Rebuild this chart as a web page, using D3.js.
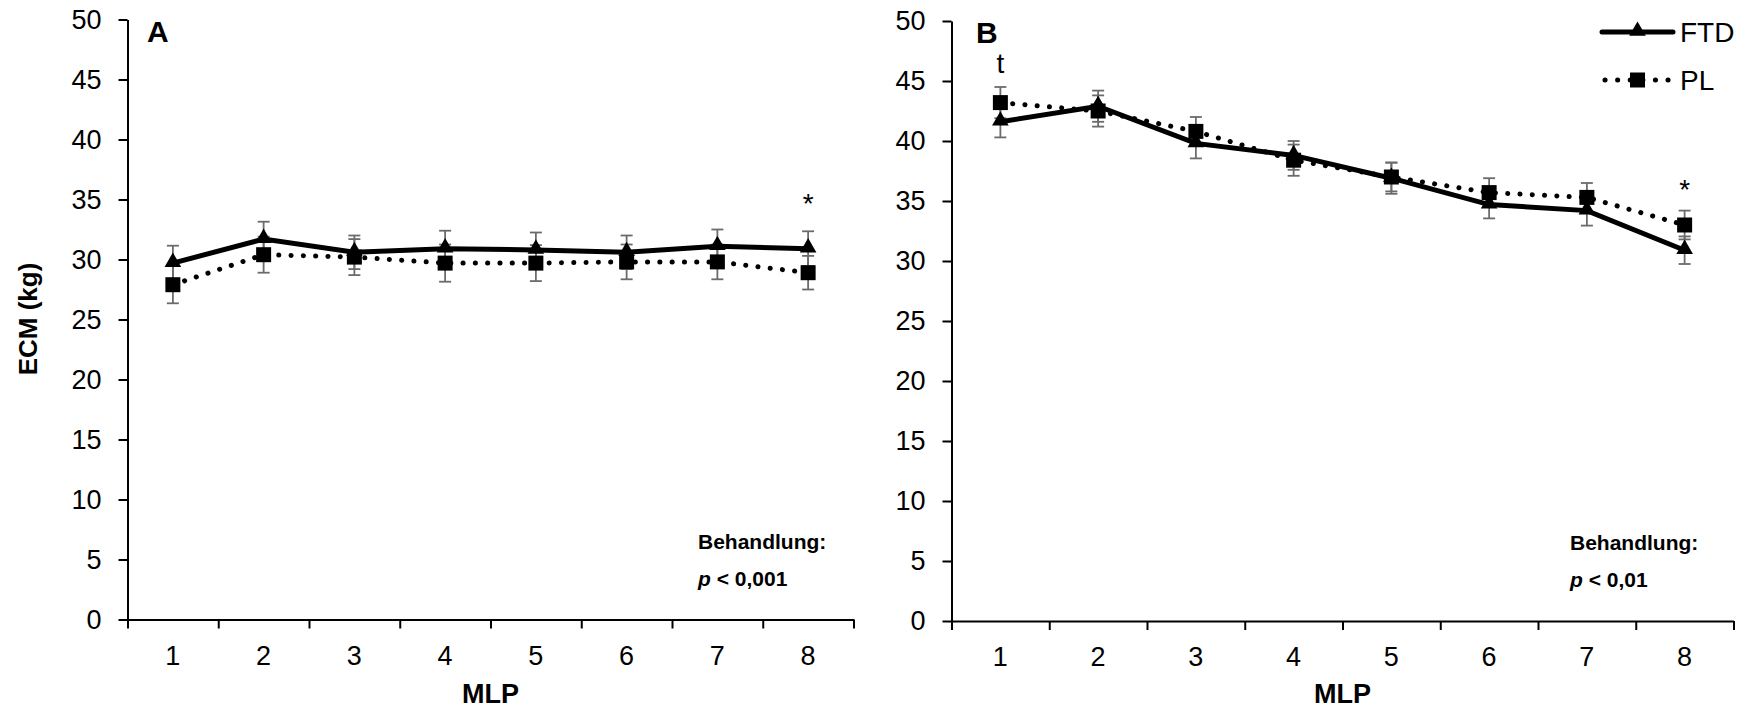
<!DOCTYPE html>
<html>
<head>
<meta charset="utf-8">
<script src="https://cdn.jsdelivr.net/npm/d3@7"></script>
<style>
  body { margin: 0; background: #fff; }
  text { font-family: Arial, 'Liberation Sans', sans-serif; fill: #000; }
</style>
</head>
<body>
<div id="chart"></div>
<script>
// categories and values
var mlp = ['1', '2', '3', '4', '5', '6', '7', '8']
var yTicks = [0, 5, 10, 15, 20, 25, 30, 35, 40, 45, 50]

var ftdA = [29.7, 31.7, 30.6, 30.9, 30.8, 30.6, 31.1, 30.9]
var ftdASe = [1.45, 1.45, 1.4, 1.5, 1.45, 1.4, 1.4, 1.45]
var plA = [27.9, 30.4, 30.2, 29.7, 29.7, 29.8, 29.8, 28.9]
var plASe = [1.55, 1.5, 1.5, 1.55, 1.5, 1.45, 1.45, 1.4]

var ftdB = [41.6, 42.9, 39.8, 38.8, 36.9, 34.7, 34.2, 30.9]
var ftdBSe = [1.3, 1.3, 1.25, 1.2, 1.3, 1.15, 1.25, 1.15]
var plB = [43.2, 42.5, 40.8, 38.4, 37.0, 35.7, 35.3, 33.0]
var plBSe = [1.3, 1.3, 1.2, 1.3, 1.2, 1.2, 1.2, 1.2]

var svg = d3.select('#chart')
  .append('svg')
  .attr('width', 1742)
  .attr('height', 710)

var triangle = d3.symbol().type(d3.symbolTriangle).size(120)
var square = d3.symbol().type(d3.symbolSquare).size(225)

function drawPanel (p) {
  var g = svg.append('g')

  var x = d3.scaleBand().domain(mlp).range([p.left, p.right])
  var xEdge = d3.scaleLinear().domain([0, mlp.length]).range([p.left, p.right])
  var y = d3.scaleLinear().domain([0, 50]).range([p.bottom, p.top])

  // y axis
  var yAxis = g.append('g')
    .attr('transform', 'translate(' + p.left + ',0)')
    .call(d3.axisLeft(y).tickValues(yTicks).tickSize(9).tickSizeOuter(0).tickPadding(17))
  yAxis.selectAll('text').style('font-size', '27px')

  // x axis: ticks between categories, labels centered
  g.append('g')
    .attr('transform', 'translate(0,' + p.bottom + ')')
    .call(d3.axisBottom(xEdge).ticks(mlp.length).tickFormat('').tickSize(9).tickSizeOuter(0))
  g.append('g')
    .attr('transform', 'translate(0,' + p.bottom + ')')
    .call(d3.axisBottom(x).tickSize(0).tickPadding(26))
    .call(function (a) { a.select('.domain').remove() })
    .selectAll('text').style('font-size', '27px')

  g.selectAll('.domain, .tick line').attr('stroke', '#000').attr('stroke-width', 2)

  var cx = function (d, i) { return x(mlp[i]) + x.bandwidth() / 2 }
  var line = d3.line().x(cx).y(function (d) { return y(d) })

  // error bars
  var series = [
    { v: p.pl, se: p.plSe },
    { v: p.ftd, se: p.ftdSe }
  ]
  series.forEach(function (s) {
    var eb = g.append('g').selectAll('g').data(s.v).enter().append('g')
      .attr('stroke', '#6b6b6b').attr('stroke-width', 1.8)
    eb.append('line')
      .attr('x1', cx).attr('x2', cx)
      .attr('y1', function (d, i) { return y(d - s.se[i]) })
      .attr('y2', function (d, i) { return y(d + s.se[i]) })
    eb.append('line')
      .attr('x1', function (d, i) { return cx(d, i) - 6 })
      .attr('x2', function (d, i) { return cx(d, i) + 6 })
      .attr('y1', function (d, i) { return y(d + s.se[i]) })
      .attr('y2', function (d, i) { return y(d + s.se[i]) })
    eb.append('line')
      .attr('x1', function (d, i) { return cx(d, i) - 6 })
      .attr('x2', function (d, i) { return cx(d, i) + 6 })
      .attr('y1', function (d, i) { return y(d - s.se[i]) })
      .attr('y2', function (d, i) { return y(d - s.se[i]) })
  })

  // lines
  g.append('path').datum(p.ftd)
    .attr('d', line)
    .attr('fill', 'none').attr('stroke', '#000').attr('stroke-width', 5)
  g.append('path').datum(p.pl)
    .attr('d', line)
    .attr('fill', 'none').attr('stroke', '#000').attr('stroke-width', 5)
    .attr('stroke-linecap', 'round').attr('stroke-dasharray', '0.1 12.2')

  // markers
  g.selectAll('.tri').data(p.ftd).enter().append('path')
    .attr('d', triangle)
    .attr('transform', function (d, i) { return 'translate(' + cx(d, i) + ',' + (y(d) - 1) + ')' })
    .attr('fill', '#000')
  g.selectAll('.sq').data(p.pl).enter().append('path')
    .attr('d', square)
    .attr('transform', function (d, i) { return 'translate(' + cx(d, i) + ',' + y(d) + ')' })
    .attr('fill', '#000')

  // panel letter
  g.append('text')
    .attr('x', p.letterX).attr('y', p.top + 22)
    .style('font-size', '30px').style('font-weight', 'bold')
    .text(p.letter)

  // significance marks
  p.marks.forEach(function (m) {
    var i = mlp.indexOf(m.at)
    g.append('text')
      .attr('x', x(m.at) + x.bandwidth() / 2)
      .attr('y', y(Math.max(p.ftd[i] + p.ftdSe[i], p.pl[i] + p.plSe[i])) + m.dy)
      .attr('text-anchor', 'middle')
      .style('font-size', '28px')
      .text(m.text)
  })

  // statistics note
  g.append('text')
    .attr('x', p.noteX).attr('y', p.bottom - 71)
    .style('font-size', '21px').style('font-weight', 'bold')
    .text('Behandlung:')
  var pt = g.append('text')
    .attr('x', p.noteX).attr('y', p.bottom - 34)
    .style('font-size', '21px').style('font-weight', 'bold')
  pt.append('tspan').style('font-style', 'italic').text('p')
  pt.append('tspan').text(' < ' + p.pText)

  // axis title
  g.append('text')
    .attr('x', (p.left + p.right) / 2).attr('y', 703)
    .attr('text-anchor', 'middle')
    .style('font-size', '27px').style('font-weight', 'bold')
    .text('MLP')
}

drawPanel({
  left: 127.5, right: 853.5, top: 19.5, bottom: 619.5,
  ftd: ftdA, ftdSe: ftdASe, pl: plA, plSe: plASe,
  letter: 'A', letterX: 147,
  marks: [{ at: '8', text: '*', dy: -18 }],
  noteX: 698, pText: '0,001'
})

drawPanel({
  left: 951.5, right: 1733.5, top: 21, bottom: 621,
  ftd: ftdB, ftdSe: ftdBSe, pl: plB, plSe: plBSe,
  letter: 'B', letterX: 976,
  marks: [{ at: '1', text: 't', dy: -14 }, { at: '8', text: '*', dy: -12 }],
  noteX: 1570, pText: '0,01'
})

// y axis title
svg.append('text')
  .attr('transform', 'translate(37,319) rotate(-90)')
  .attr('text-anchor', 'middle')
  .style('font-size', '26px').style('font-weight', 'bold')
  .text('ECM (kg)')

// legend
var legend = svg.append('g')
legend.append('line')
  .attr('x1', 1602).attr('x2', 1673).attr('y1', 32).attr('y2', 32)
  .attr('stroke', '#000').attr('stroke-width', 5).attr('stroke-linecap', 'round')
legend.append('path').attr('d', triangle)
  .attr('transform', 'translate(1637.5,31)').attr('fill', '#000')
legend.append('text').attr('x', 1680).attr('y', 42)
  .style('font-size', '28px').text('FTD')
legend.append('line')
  .attr('x1', 1605).attr('x2', 1670).attr('y1', 80).attr('y2', 80)
  .attr('stroke', '#000').attr('stroke-width', 5)
  .attr('stroke-linecap', 'round').attr('stroke-dasharray', '0.1 12.5')
legend.append('path').attr('d', square)
  .attr('transform', 'translate(1637.5,80)').attr('fill', '#000')
legend.append('text').attr('x', 1680).attr('y', 90)
  .style('font-size', '28px').text('PL')
</script>
</body>
</html>
